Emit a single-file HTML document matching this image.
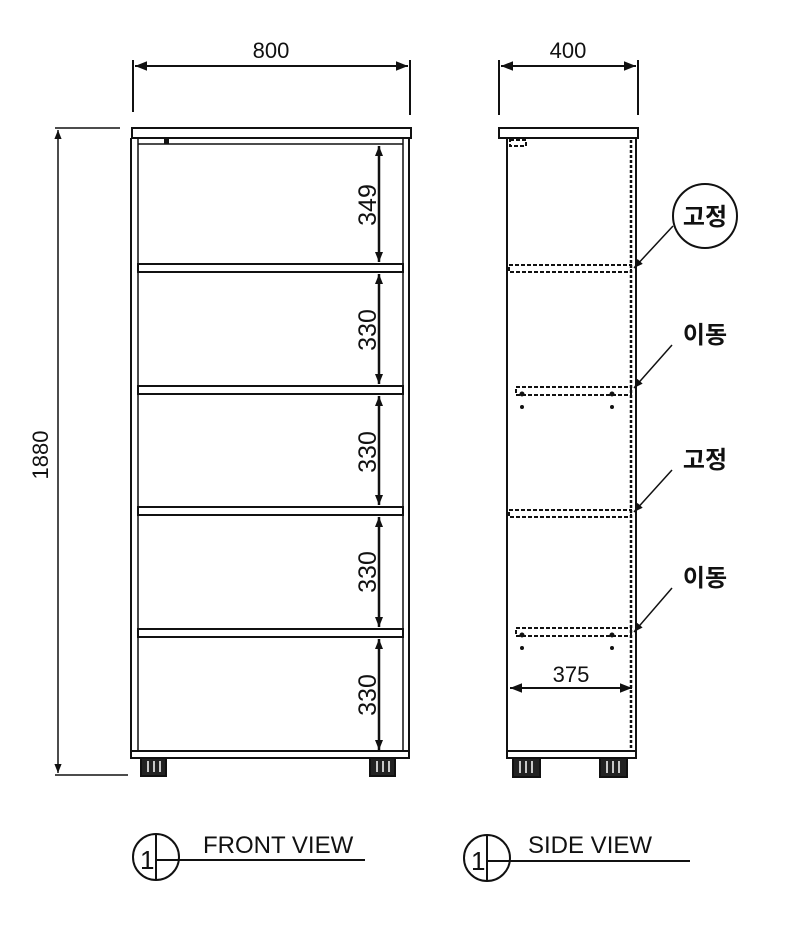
<!DOCTYPE html>
<html><head><meta charset="utf-8"><style>
html,body{margin:0;padding:0;background:#fff}
svg{display:block}
text{font-family:"Liberation Sans","Noto Sans CJK KR",sans-serif;fill:#111}
</style></head><body>
<svg width="800" height="942" viewBox="0 0 800 942" xmlns="http://www.w3.org/2000/svg">
<defs>
<marker id="a" viewBox="0 0 10 10" refX="10" refY="5" markerWidth="8" markerHeight="6" orient="auto-start-reverse"><path d="M0,1 L10,5 L0,9 z" fill="#111"/></marker>
<marker id="b" viewBox="0 0 10 10" refX="10" refY="5" markerWidth="6" markerHeight="4" orient="auto-start-reverse"><path d="M0,1 L10,5 L0,9 z" fill="#111"/></marker>
</defs>
<g stroke="#111" fill="none" stroke-width="2">
<line x1="133" y1="60" x2="133" y2="112"/><line x1="410" y1="60" x2="410" y2="115"/>
<line x1="135" y1="66" x2="408" y2="66" marker-start="url(#a)" marker-end="url(#a)"/>
<line x1="55" y1="128" x2="120" y2="128" stroke-width="1.5"/><line x1="55" y1="775" x2="128" y2="775" stroke-width="1.5"/>
<line x1="58" y1="130" x2="58" y2="773" marker-start="url(#a)" marker-end="url(#a)" stroke-width="1.5"/>
<rect x="132" y="128" width="279" height="10"/>
<line x1="131" y1="138" x2="131" y2="758"/><line x1="409" y1="138" x2="409" y2="758"/>
<line x1="138" y1="138" x2="138" y2="752" stroke-width="1.5"/><line x1="403" y1="138" x2="403" y2="752" stroke-width="1.5"/>
<line x1="138" y1="144" x2="403" y2="144" stroke-width="1.5"/>
<rect x="165" y="138" width="3" height="5" fill="#111"/>
<rect x="138" y="264" width="265" height="8"/>
<rect x="138" y="386" width="265" height="8"/>
<rect x="138" y="507" width="265" height="8"/>
<rect x="138" y="629" width="265" height="8"/>
<rect x="131" y="751" width="278" height="7"/>
<g fill="#222"><rect x="141" y="758" width="25" height="18"/><rect x="370" y="758" width="25" height="18"/></g>
<g stroke="#fff" stroke-width="1.5"><line x1="148" y1="761" x2="148" y2="772"/><line x1="154" y1="761" x2="154" y2="772"/><line x1="160" y1="761" x2="160" y2="772"/><line x1="377" y1="761" x2="377" y2="772"/><line x1="383" y1="761" x2="383" y2="772"/><line x1="389" y1="761" x2="389" y2="772"/></g>
<g stroke-width="2.5">
<line x1="379" y1="146" x2="379" y2="262" marker-start="url(#b)" marker-end="url(#b)"/>
<line x1="379" y1="274" x2="379" y2="384" marker-start="url(#b)" marker-end="url(#b)"/>
<line x1="379" y1="396" x2="379" y2="505" marker-start="url(#b)" marker-end="url(#b)"/>
<line x1="379" y1="517" x2="379" y2="627" marker-start="url(#b)" marker-end="url(#b)"/>
<line x1="379" y1="639" x2="379" y2="750" marker-start="url(#b)" marker-end="url(#b)"/>
</g>
<line x1="499" y1="60" x2="499" y2="115"/><line x1="638" y1="60" x2="638" y2="115"/>
<line x1="501" y1="66" x2="636" y2="66" marker-start="url(#a)" marker-end="url(#a)"/>
<rect x="499" y="128" width="139" height="10"/>
<line x1="507" y1="138" x2="507" y2="758"/><line x1="636" y1="138" x2="636" y2="758"/>
<line x1="631" y1="140" x2="631" y2="752" stroke-dasharray="3 2" stroke-width="2.5"/>
<rect x="507" y="751" width="129" height="7"/>
<g fill="#222"><rect x="513" y="758" width="27" height="19"/><rect x="600" y="758" width="27" height="19"/></g>
<g stroke="#fff" stroke-width="1.5"><line x1="520" y1="761" x2="520" y2="773"/><line x1="526" y1="761" x2="526" y2="773"/><line x1="532" y1="761" x2="532" y2="773"/><line x1="607" y1="761" x2="607" y2="773"/><line x1="613" y1="761" x2="613" y2="773"/><line x1="619" y1="761" x2="619" y2="773"/></g>
<g stroke-dasharray="4 2" stroke-width="2">
<rect x="509" y="265" width="122" height="7"/>
<rect x="516" y="387" width="115" height="8"/>
<rect x="509" y="510" width="122" height="7"/>
<rect x="516" y="628" width="115" height="8"/>
<rect x="510" y="140" width="16" height="6"/>
</g>
<g fill="#111" stroke="none">
<circle cx="522" cy="394" r="2.5"/><circle cx="612" cy="394" r="2.5"/><circle cx="522" cy="407" r="2"/><circle cx="612" cy="407" r="2"/>
<circle cx="522" cy="635" r="2.5"/><circle cx="612" cy="635" r="2.5"/><circle cx="522" cy="648" r="2"/><circle cx="612" cy="648" r="2"/>
</g>
<line x1="510" y1="688" x2="632" y2="688" marker-start="url(#a)" marker-end="url(#a)"/>
<circle cx="705" cy="216" r="32"/>
<line x1="673" y1="226" x2="634" y2="268" marker-end="url(#a)" stroke-width="1.5"/>
<line x1="672" y1="345" x2="634" y2="388" marker-end="url(#a)" stroke-width="1.5"/>
<line x1="672" y1="470" x2="634" y2="512" marker-end="url(#a)" stroke-width="1.5"/>
<line x1="672" y1="588" x2="634" y2="632" marker-end="url(#a)" stroke-width="1.5"/>
<circle cx="156" cy="857" r="23"/><line x1="156" y1="834" x2="156" y2="880"/><line x1="156" y1="860" x2="365" y2="860"/>
<circle cx="487" cy="858" r="23"/><line x1="487" y1="835" x2="487" y2="881"/><line x1="487" y1="861" x2="690" y2="861"/>
</g>
<g font-size="22">
<text x="271" y="58" text-anchor="middle">800</text>
<text x="568" y="58" text-anchor="middle">400</text>
<text x="571" y="682" text-anchor="middle">375</text>
<text transform="translate(48,455) rotate(-90)" text-anchor="middle">1880</text>
<g font-size="25">
<text transform="translate(376,205) rotate(-90)" text-anchor="middle">349</text>
<text transform="translate(376,330) rotate(-90)" text-anchor="middle">330</text>
<text transform="translate(376,452) rotate(-90)" text-anchor="middle">330</text>
<text transform="translate(376,572) rotate(-90)" text-anchor="middle">330</text>
<text transform="translate(376,695) rotate(-90)" text-anchor="middle">330</text>
</g>
<g font-size="24" font-weight="bold">
<text x="705" y="225" text-anchor="middle">고정</text>
<text x="705" y="343" text-anchor="middle">이동</text>
<text x="705" y="468" text-anchor="middle">고정</text>
<text x="705" y="586" text-anchor="middle">이동</text>
</g>
<text x="140" y="869" font-size="26">1</text>
<text x="471" y="870" font-size="26">1</text>
<text x="203" y="853" font-size="24">FRONT VIEW</text>
<text x="528" y="853" font-size="24">SIDE VIEW</text>
</g>
</svg>
</body></html>
